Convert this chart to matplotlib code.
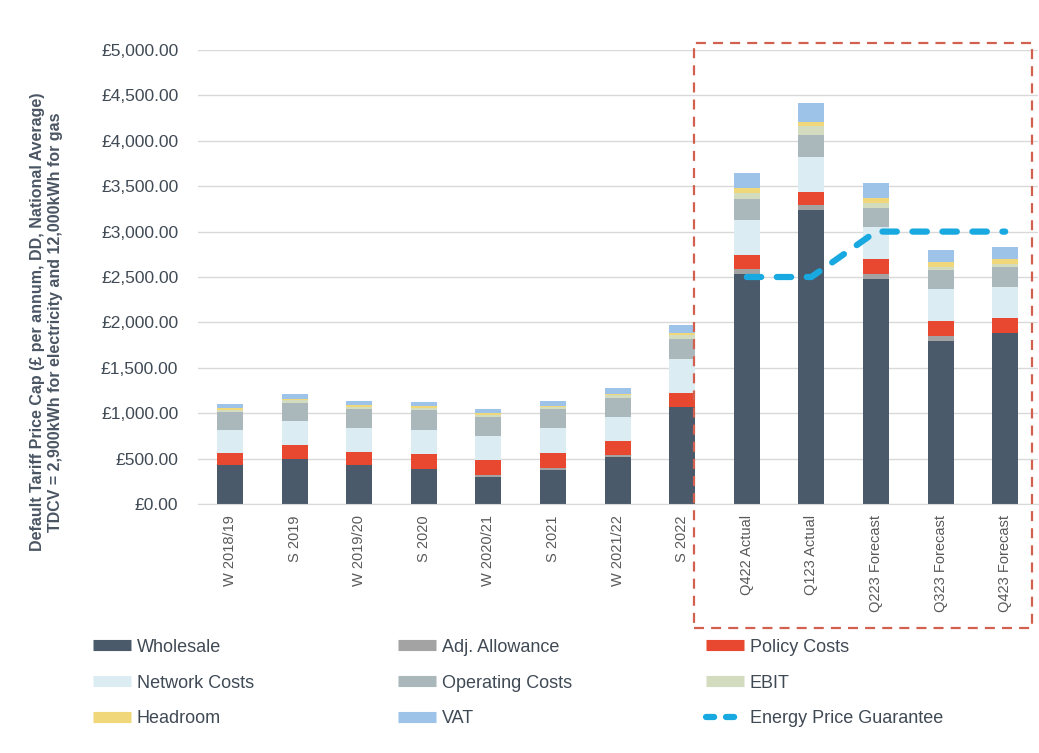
import numpy as np
import matplotlib
matplotlib.use("Agg")
import matplotlib.pyplot as plt
from matplotlib.lines import Line2D
from matplotlib.patches import Rectangle
from matplotlib.ticker import FuncFormatter

plt.rcParams['font.family'] = ['Liberation Sans', 'DejaVu Sans']

categories = ["W 2018/19", "S 2019", "W 2019/20", "S 2020", "W 2020/21", "S 2021",
              "W 2021/22", "S 2022", "Q422 Actual", "Q123 Actual", "Q223 Forecast",
              "Q323 Forecast", "Q423 Forecast"]

wholesale = [430, 500, 430, 389, 300, 371, 521, 1071, 2533, 3238, 2478, 1799, 1883]
adj_allowance = [0, 0, 0, 0, 16, 22, 15, 0, 55, 52, 52, 51, 5]
policy_costs = [135, 146, 146, 162, 169, 172, 158, 151, 154, 150, 165, 165, 155]
network_costs = [250, 268, 264, 267, 267, 272, 267, 375, 386, 385, 352, 349, 345]
operating_costs = [195, 202, 206, 217, 209, 209, 210, 220, 231, 238, 216, 213, 220]
ebit = [25, 25, 26, 26, 22, 20, 25, 44, 70, 103, 55, 38, 37]
headroom = [20, 20, 18, 18, 16, 13, 15, 19, 48, 38, 47, 50, 52]
vat = [45, 54, 48, 44, 43, 55, 66, 91, 172, 209, 173, 132, 131]
epg = [np.nan] * 8 + [2500, 2500, 3000, 3000, 3000]

series = [
    ("Wholesale", wholesale, "#4a5a6b"),
    ("Adj. Allowance", adj_allowance, "#a3a3a3"),
    ("Policy Costs", policy_costs, "#e8482f"),
    ("Network Costs", network_costs, "#dbedf2"),
    ("Operating Costs", operating_costs, "#aab7bb"),
    ("EBIT", ebit, "#d4dcc0"),
    ("Headroom", headroom, "#efd77a"),
    ("VAT", vat, "#9dc3e8"),
]
epg_color = "#19a9e1"
text_color = "#404a55"

fig = plt.figure(figsize=(10.39, 7.53), dpi=100)
ax = fig.add_axes([197.7 / 1039, 1 - 504 / 753, (1037.5 - 197.7) / 1039, (504 - 50) / 753])

x = np.arange(len(categories))
bottom = np.zeros(len(categories))
handles = {}
for name, vals, col in series:
    v = np.array(vals, dtype=float)
    ax.bar(x, v, width=0.4, bottom=bottom, color=col, edgecolor="none", zorder=2)
    bottom += v
    handles[name] = Line2D([0], [0], color=col, lw=8, solid_capstyle="butt")

ax.plot(x, epg, color=epg_color, lw=4.5, dashes=(2.3, 2.5), dash_capstyle="round", zorder=3)
handles["Energy Price Guarantee"] = Line2D([0], [0], color=epg_color, lw=4.5,
                                           dashes=(1.3, 1.9), dash_capstyle="round")

ax.set_xlim(-0.5, len(categories) - 0.5)
ax.set_ylim(0, 5000)
ax.set_yticks(np.arange(0, 5001, 500))
ax.yaxis.set_major_formatter(FuncFormatter(lambda v, p: "£{:,.2f}".format(v)))
ax.set_xticks(x)
ax.set_xticklabels(categories, rotation=90, fontsize=10.5, color="#595959")
ax.tick_params(axis="y", labelsize=12.5, colors=text_color, length=0, pad=14)
ax.tick_params(axis="x", length=0, pad=8)
ax.grid(axis="y", color="#d9d9d9", lw=1, zorder=0)
ax.set_axisbelow(True)
for s in ["left", "right", "top"]:
    ax.spines[s].set_visible(False)
ax.spines["bottom"].set_color("#d9d9d9")

fig.text(47 / 1039, 1 - 322 / 753,
         "Default Tariff Price Cap (£ per annum, DD, National Average)\nTDCV = 2,900kWh for electricity and 12,000kWh for gas",
         rotation=90, ha="center", va="center", fontsize=11.5, fontweight="bold",
         color="#4a5563", linespacing=1.25)

# dashed highlight box
rect = Rectangle((694 / 1039, 1 - 628 / 753), (1031.5 - 694) / 1039, (628 - 42.7) / 753,
                 transform=fig.transFigure, fill=False, edgecolor="#d2604e", lw=1.6,
                 linestyle=(0, (4.5, 3.2)), zorder=5)
fig.add_artist(rect)

columns = [
    (93, ["Wholesale", "Network Costs", "Headroom"]),
    (398, ["Adj. Allowance", "Operating Costs", "VAT"]),
    (706, ["Policy Costs", "EBIT", "Energy Price Guarantee"]),
]
for xpos, names in columns:
    leg = fig.legend([handles[k] for k in names], names, ncol=1,
                     loc="center left", bbox_to_anchor=(xpos / 1039, 1 - 683 / 753),
                     frameon=False, fontsize=13, handlelength=2.1, handletextpad=0.33,
                     labelspacing=1.05, borderaxespad=0, borderpad=0)
    for t in leg.get_texts():
        t.set_color(text_color)

fig.savefig("out.png", dpi=100)
